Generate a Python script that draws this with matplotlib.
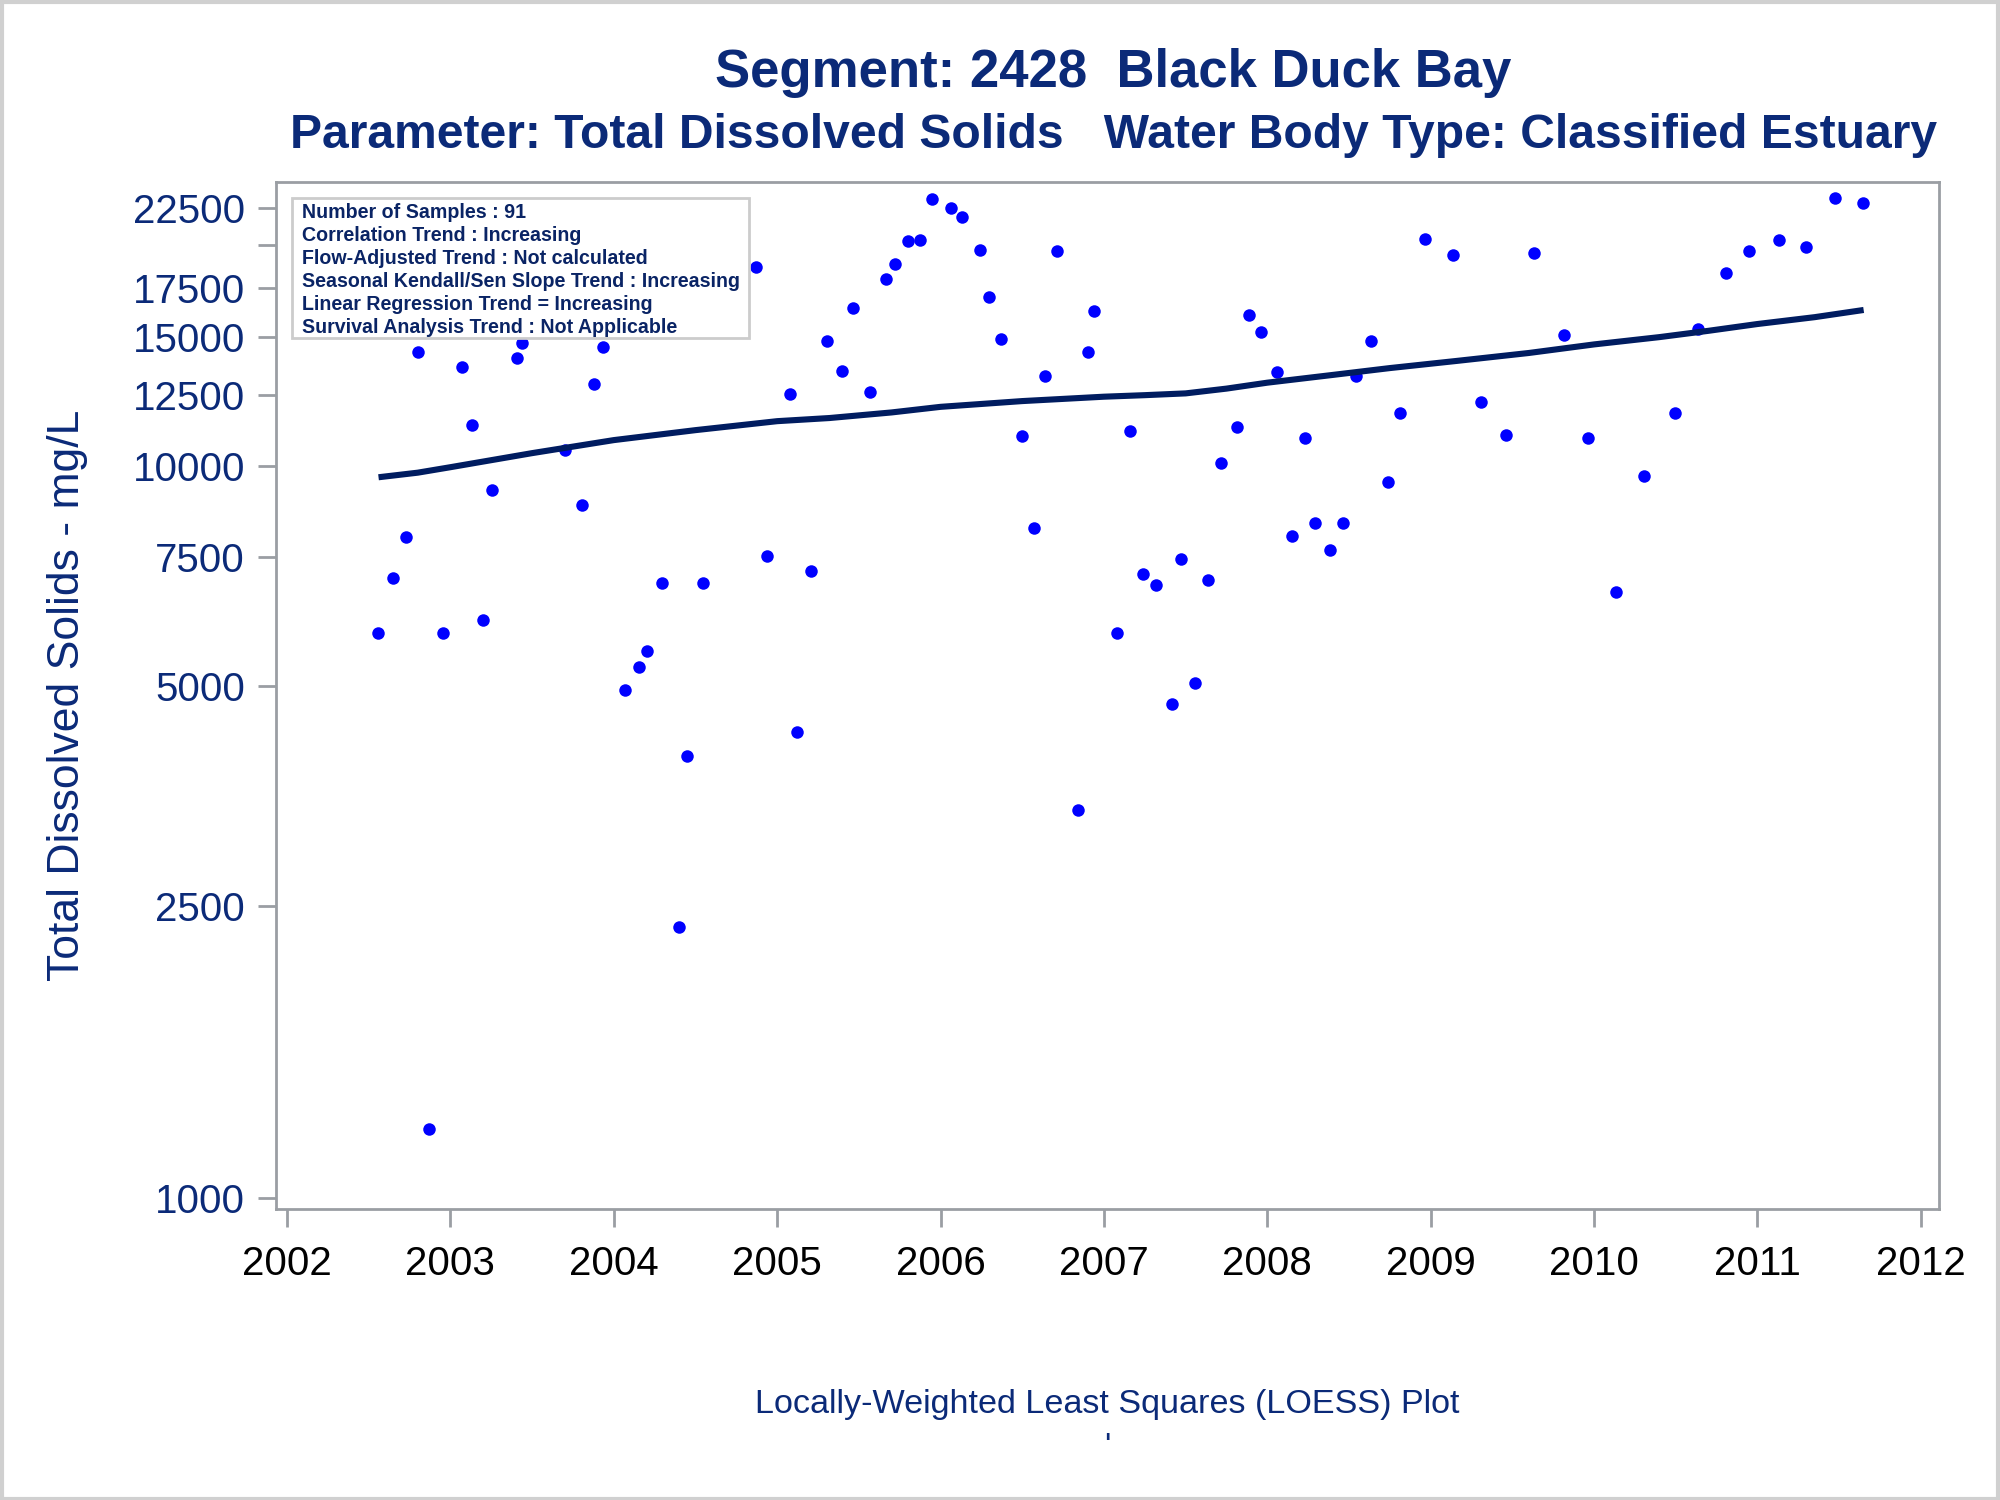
import matplotlib
matplotlib.use("Agg")
import matplotlib.pyplot as plt
from matplotlib.ticker import NullLocator, FixedLocator, FixedFormatter
from matplotlib.patches import Rectangle

plt.rcParams['font.family'] = ['Liberation Sans', 'DejaVu Sans']

# ---- data (decimal year, mg/L) ----
sample_years = [
    2002.554, 2002.648, 2002.726, 2002.804, 2002.867, 2002.952, 2003.069, 2003.132,
    2003.202, 2003.257, 2003.405, 2003.436, 2003.624, 2003.702, 2003.803, 2003.881,
    2003.936, 2004.069, 2004.155, 2004.201, 2004.295, 2004.397, 2004.451, 2004.545,
    2004.623, 2004.779, 2004.873, 2004.935, 2005.076, 2005.123, 2005.208, 2005.302,
    2005.396, 2005.466, 2005.568, 2005.669, 2005.724, 2005.802, 2005.872, 2005.950,
    2006.067, 2006.130, 2006.239, 2006.294, 2006.372, 2006.496, 2006.574, 2006.637,
    2006.715, 2006.840, 2006.902, 2006.941, 2007.082, 2007.160, 2007.238, 2007.316,
    2007.418, 2007.472, 2007.558, 2007.636, 2007.714, 2007.816, 2007.886, 2007.964,
    2008.058, 2008.151, 2008.229, 2008.292, 2008.386, 2008.464, 2008.542, 2008.635,
    2008.737, 2008.815, 2008.963, 2009.135, 2009.307, 2009.463, 2009.635, 2009.814,
    2009.963, 2010.134, 2010.306, 2010.493, 2010.634, 2010.806, 2010.946, 2011.133,
    2011.297, 2011.475, 2011.649,
]
tds_values = [
    5910, 7020, 7990, 14300, 1240, 5910, 13620, 11370,
    6160, 9270, 14010, 14700, 16920, 10490, 8830, 12930,
    14520, 4940, 5300, 5590, 6910, 2340, 4010, 6910,
    17400, 16980, 18700, 7520, 12520, 4320, 7170, 14820,
    13460, 16440, 12620, 17960, 18850, 20260, 20340, 23130,
    22480, 21860, 19700, 16980, 14880, 10970, 8220, 13240,
    19620, 3390, 14300, 16250, 5910, 11140, 7110, 6860,
    4720, 7460, 5040, 6970, 10080, 11280, 16060, 15240,
    13410, 8020, 10920, 8350, 7670, 8350, 13240, 14820,
    9490, 11790, 20420, 19390, 12220, 11010, 19540, 15060,
    10920, 6720, 9690, 11790, 15360, 18330, 19620, 20340,
    19860, 23220, 22850,
]

loess_years = [2002.56, 2002.8, 2003.0, 2003.5, 2004.0, 2004.5, 2005.0, 2005.32, 2005.7,
               2006.0, 2006.5, 2007.0, 2007.25, 2007.5, 2007.75, 2008.0, 2008.4, 2008.75,
               2009.16, 2009.6, 2010.0, 2010.4, 2010.7, 2011.0, 2011.35, 2011.65]
loess_values = [9640, 9780, 9950, 10400, 10835, 11180, 11500, 11614, 11820,
                12030, 12250, 12420, 12480, 12550, 12740, 12980, 13300, 13590,
                13900, 14250, 14640, 14980, 15280, 15610, 15950, 16315]

x_ticks = list(range(2002, 2013))
y_ticks = [1000, 2500, 5000, 7500, 10000, 12500, 15000, 17500, 20000, 22500]
y_tick_labels = ['1000', '2500', '5000', '7500', '10000', '12500', '15000', '17500', '', '22500']

title_line1 = "Segment: 2428  Black Duck Bay"
title_line2 = "Parameter: Total Dissolved Solids   Water Body Type: Classified Estuary"
y_label = "Total Dissolved Solids - mg/L"
footer = "Locally-Weighted Least Squares (LOESS) Plot"
info_lines = [
    "Number of Samples : 91",
    "Correlation Trend : Increasing",
    "Flow-Adjusted Trend : Not calculated",
    "Seasonal Kendall/Sen Slope Trend : Increasing",
    "Linear Regression Trend = Increasing",
    "Survival Analysis Trend : Not Applicable",
]

NAVY = '#0b2a78'
GREY = '#9a9ea3'

fig = plt.figure(figsize=(20, 15), dpi=100)
ax = fig.add_axes([0.1378, 0.1939, 0.8316, 0.6845])

ax.plot(sample_years, tds_values, linestyle='none', marker='o', markersize=9,
        markerfacecolor='#0000ff', markeredgewidth=0, zorder=3)
ax.plot(loess_years, loess_values, color='#001c60', linewidth=4.4, zorder=4,
        solid_capstyle='butt', solid_joinstyle='round')

ax.set_yscale('log')
ax.set_xlim(2001.93, 2012.11)
ax.set_ylim(964.5, 24370)
ax.yaxis.set_major_locator(FixedLocator(y_ticks))
ax.yaxis.set_major_formatter(FixedFormatter(y_tick_labels))
ax.yaxis.set_minor_locator(NullLocator())
ax.set_xticks(x_ticks)
ax.set_xticklabels([str(t) for t in x_ticks])
ax.xaxis.set_minor_locator(NullLocator())

for sp in ax.spines.values():
    sp.set_color(GREY)
    sp.set_linewidth(2.0)

ax.tick_params(axis='both', which='major', length=13, width=2.0, color=GREY,
               direction='out', labelsize=29)
ax.tick_params(axis='y', pad=9, labelcolor=NAVY)
ax.tick_params(axis='x', pad=13, labelcolor='black')

ax.set_ylabel(y_label, fontsize=32, color=NAVY)
ax.yaxis.set_label_coords(-0.113, 0.5)

# info box
ax.add_patch(Rectangle((0.00997, 0.8484), 0.2745, 0.1366, transform=ax.transAxes,
                       facecolor='white', edgecolor='#cccccc', linewidth=2.0, zorder=5))
for i, line in enumerate(info_lines):
    ax.text(0.0161, 0.971 - i * 0.0224, line, transform=ax.transAxes,
            fontsize=14.1, fontweight='bold', color='#0a2465',
            va='center', ha='left', zorder=6)

fig.text(0.5568, 0.951, title_line1, ha='center', va='center', fontsize=38,
         fontweight='bold', color=NAVY)
fig.text(0.5568, 0.9099, title_line2, ha='center', va='center', fontsize=34.6,
         fontweight='bold', color=NAVY)
fig.text(0.5536, 0.0637, footer, ha='center', va='center', fontsize=24.6, color=NAVY)
fig.text(0.5536, 0.0347, "'", ha='center', va='center', fontsize=24, color=NAVY)

fig.patches.append(Rectangle((0.001, 0.001), 0.998, 0.998, transform=fig.transFigure,
                             facecolor='none', edgecolor='#d0d0d0', linewidth=3))

fig.savefig('out.png', dpi=100)
